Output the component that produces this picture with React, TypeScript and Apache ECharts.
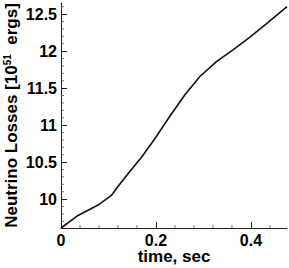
import React, { useEffect, useRef } from "react";
import * as echarts from "echarts";

// time, sec
const timeValues = [0, 0.036, 0.078, 0.106, 0.12, 0.142, 0.17, 0.198, 0.226, 0.261, 0.293, 0.328, 0.363, 0.398, 0.433, 0.476];
// Neutrino losses [10^51 ergs]
const lossValues = [9.61, 9.78, 9.92, 10.05, 10.17, 10.35, 10.57, 10.82, 11.09, 11.41, 11.66, 11.86, 12.02, 12.19, 12.37, 12.6];

const xTicks = [0, 0.2, 0.4];
const yTicks = [10, 10.5, 11, 11.5, 12, 12.5];
const xRange = [0, 0.476];
const yRange = [9.61, 12.65];
const xMinorStep = 0.04;
const yMinorStep = 0.1;

function minorValues(lo: number, hi: number, step: number, majors: number[]) {
  const out: number[] = [];
  const start = Math.ceil(lo / step - 1e-9);
  for (let k = start; k * step <= hi + 1e-9; k++) {
    const v = +(k * step).toFixed(6);
    if (!majors.some((m) => Math.abs(m - v) < 1e-6)) out.push(v);
  }
  return out;
}

const FONT = "'Liberation Sans', Arial, Helvetica, sans-serif";
const AX = "#222";

export default function App() {
  const ref = useRef<HTMLDivElement>(null);
  useEffect(() => {
    if (!ref.current) return;
    const chart = echarts.init(ref.current, undefined, { renderer: "svg" });
    const xMinor = minorValues(xRange[0], xRange[1], xMinorStep, xTicks);
    const yMinor = minorValues(yRange[0], yRange[1], yMinorStep, yTicks);
    const labelStyle = { fontSize: 16, fontWeight: "bold" as const, color: "#000", fontFamily: FONT };
    chart.setOption({
      animation: false,
      backgroundColor: "#fff",
      grid: { left: 61, right: 2, top: 3, bottom: 40, containLabel: false, outerBoundsMode: "none" },
      xAxis: {
        type: "value",
        min: xRange[0],
        max: xRange[1],
        position: "bottom",
        axisLine: { show: true, onZero: false, lineStyle: { color: AX, width: 1 } },
        axisTick: { show: true, inside: true, length: 6, customValues: xTicks, lineStyle: { color: AX } },
        axisLabel: { show: true, customValues: xTicks, margin: 4, ...labelStyle },
        splitLine: { show: false },
        name: "time, sec",
        nameLocation: "middle",
        nameGap: 20,
        nameMoveOverlap: false,
        nameTextStyle: { fontSize: 17, fontWeight: "bold", color: "#000", fontFamily: FONT },
      },
      yAxis: {
        type: "value",
        min: yRange[0],
        max: yRange[1],
        position: "left",
        axisLine: { show: true, onZero: false, lineStyle: { color: AX, width: 1 } },
        axisTick: { show: true, inside: true, length: 6, customValues: yTicks, lineStyle: { color: AX } },
        axisLabel: { show: true, customValues: yTicks, margin: 4, ...labelStyle },
        splitLine: { show: false },
        name: "Neutrino Losses [10{sup|51}  ergs]",
        nameLocation: "middle",
        nameGap: 41,
        nameMoveOverlap: false,
        nameTextStyle: {
          fontSize: 17,
          fontWeight: "bold",
          color: "#000",
          fontFamily: FONT,
          rich: {
            sup: { fontSize: 10, fontWeight: "bold", color: "#000", fontFamily: FONT, verticalAlign: "top", padding: [0, 0, 8, 0] },
          },
        },
      },
      series: [
        {
          type: "line",
          data: timeValues.map((t, i) => [t, lossValues[i]]),
          showSymbol: false,
          symbol: "none",
          smooth: false,
          lineStyle: { color: "#111", width: 1.6 },
          z: 3,
        },
        {
          type: "scatter",
          silent: true,
          clip: false,
          symbol: "rect",
          symbolSize: [1, 3],
          symbolOffset: [0, -1.5],
          itemStyle: { color: "#555" },
          data: xMinor.map((v) => [v, yRange[0]]),
        },
        {
          type: "scatter",
          silent: true,
          clip: false,
          symbol: "rect",
          symbolSize: [3, 1],
          symbolOffset: [1.5, 0],
          itemStyle: { color: "#555" },
          data: yMinor.map((v) => [xRange[0], v]),
        },
      ],
    });
    return () => chart.dispose();
  }, []);
  return <div ref={ref} style={{ position: "fixed", left: 0, top: 0, width: 289, height: 268 }} />;
}
